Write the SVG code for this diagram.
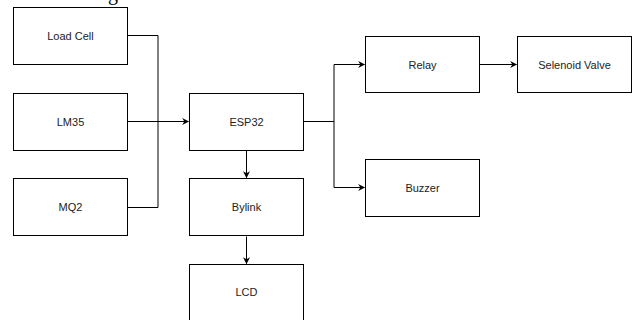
<svg xmlns="http://www.w3.org/2000/svg" width="632" height="320" viewBox="0 0 632 320">
<defs>
<style>
.box{fill:#fff;stroke:#000;stroke-width:1}
.lbl{font-family:"Liberation Sans",Arial,sans-serif;font-size:11px;fill:#222;text-anchor:middle;dominant-baseline:central}
.edge{fill:none;stroke:#000;stroke-width:1}
</style>
<marker id="arr" viewBox="0 0 10 10" refX="9" refY="5" markerWidth="7" markerHeight="7" markerUnits="userSpaceOnUse" orient="auto">
<path d="M0,0 L10,5 L0,10 L3,5 Z" fill="#000"/>
</marker>
</defs>
<rect width="632" height="320" fill="#fff"/>
<text x="108" y="0" font-family="Liberation Serif,serif" font-size="20" fill="#000">gas.</text>
<g id="connectors">
<path class="edge" d="M127.5,35.5 H158 V207.5 H127.5"/>
<path class="edge" d="M127.5,121.5 H188.5" marker-end="url(#arr)"/>
<path class="edge" d="M303.5,121.5 H334"/>
<path class="edge" d="M334,187.5 V64.5 H364.5" marker-end="url(#arr)"/>
<path class="edge" d="M334,187.5 H364.5" marker-end="url(#arr)"/>
<path class="edge" d="M479.5,64.5 H516.5" marker-end="url(#arr)"/>
<path class="edge" d="M246.5,150.5 V177.5" marker-end="url(#arr)"/>
<path class="edge" d="M246.5,236.5 V263.5" marker-end="url(#arr)"/>
</g>
<g id="load-cell"><rect class="box" x="13.5" y="7.5" width="114" height="57"/><text class="lbl" x="70.5" y="36">Load Cell</text></g>
<g id="lm35"><rect class="box" x="13.5" y="93.5" width="114" height="57"/><text class="lbl" x="70.5" y="122">LM35</text></g>
<g id="mq2"><rect class="box" x="13.5" y="178.5" width="114" height="57"/><text class="lbl" x="70.5" y="207">MQ2</text></g>
<g id="esp32"><rect class="box" x="189.5" y="93.5" width="114" height="57"/><text class="lbl" x="246.5" y="122">ESP32</text></g>
<g id="bylink"><rect class="box" x="189.5" y="178.5" width="114" height="57"/><text class="lbl" x="246.5" y="207">Bylink</text></g>
<g id="lcd"><rect class="box" x="189.5" y="264.5" width="114" height="57"/><text class="lbl" x="246.5" y="292">LCD</text></g>
<g id="relay"><rect class="box" x="365.5" y="36.5" width="114" height="56"/><text class="lbl" x="422.5" y="64.5">Relay</text></g>
<g id="selenoid-valve"><rect class="box" x="517.5" y="36.5" width="114" height="56"/><text class="lbl" x="574.5" y="64.5">Selenoid Valve</text></g>
<g id="buzzer"><rect class="box" x="365.5" y="159.5" width="114" height="57"/><text class="lbl" x="422.5" y="187.5">Buzzer</text></g>
</svg>
